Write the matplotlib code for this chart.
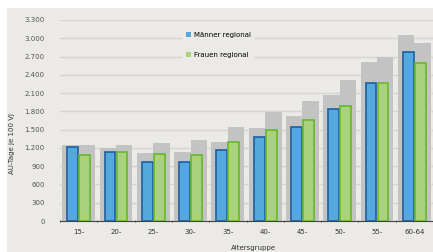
import numpy as np
import matplotlib.pyplot as plt
from matplotlib.patches import Rectangle


groups = ['15-', '20-', '25-', '30-', '35-', '40-', '45-', '50-', '55-', '60-64']
men_regional = [1210, 1140, 975, 970, 1160, 1380, 1550, 1835, 2260, 2775]
women_regional = [1090, 1130, 1100, 1090, 1290, 1490, 1660, 1890, 2260, 2590]
men_national = [1255, 1195, 1110, 1135, 1305, 1535, 1730, 2065, 2610, 3055]
women_national = [1255, 1245, 1275, 1335, 1550, 1790, 1975, 2315, 2700, 2930]
yticks = np.arange(0, 3301, 300)
ytick_labels = ['{:,}'.format(v).replace(',', '.') for v in yticks]


def main():
    bg = '#ebeae6'
    fig = plt.figure(figsize=(4.33, 2.52), dpi=100, facecolor='white')
    fig.patches.append(Rectangle((7 / 433, 0), 1, 1 - 8 / 252, transform=fig.transFigure,
                                 facecolor=bg, edgecolor='none', zorder=-5))

    ax = fig.add_axes([60 / 433, 31 / 252, 1 - 60 / 433, 201 / 252])
    ax.set_facecolor(bg)
    x = np.arange(len(groups))

    ax.bar(x - 0.22, men_national, width=0.44, color='#c3c3c3', zorder=2)
    ax.bar(x + 0.22, women_national, width=0.44, color='#c3c3c3', zorder=2)
    ax.bar(x - 0.16, men_regional, width=0.29, color='#55a8dc', edgecolor='#1d5f9f',
           linewidth=1.2, zorder=3, label='Männer regional')
    ax.bar(x + 0.16, women_regional, width=0.29, color='#a9d17e', edgecolor='#66b82a',
           linewidth=1.2, zorder=3, label='Frauen regional')

    ax.set_ylim(0, 3300)
    ax.set_xlim(-0.5, 9.4)
    ax.set_yticks(yticks)
    ax.set_yticklabels(ytick_labels)
    ax.yaxis.grid(True, color='#d6d5d1', linewidth=1.0, zorder=0)
    ax.set_axisbelow(True)
    ax.set_xticks(x)
    ax.set_xticklabels(groups)
    ax.set_xticks(np.arange(-0.5, 10, 1), minor=True)
    ax.tick_params(axis='x', which='major', length=0, labelsize=5, pad=6, colors='#333333')
    ax.tick_params(axis='x', which='minor', length=2, width=0.7, color='#555555', direction='inout')
    ax.tick_params(axis='y', length=0, labelsize=5, pad=11, colors='#555555')
    for lab in ax.get_yticklabels():
        lab.set_horizontalalignment('right')
    for side in ['top', 'right', 'left']:
        ax.spines[side].set_visible(False)
    ax.spines['bottom'].set_color('#444444')
    ax.spines['bottom'].set_linewidth(0.8)

    leg = ax.legend(loc='upper left', bbox_to_anchor=(0.318, 0.975), fontsize=5, frameon=True,
                    handlelength=0.8, handleheight=0.8, handletextpad=0.4, labelspacing=2.0,
                    borderpad=0.5)
    leg.get_frame().set_facecolor(bg)
    leg.get_frame().set_edgecolor('none')
    leg.get_frame().set_alpha(1)
    for h in leg.legend_handles:
        h.set_linewidth(0)

    fig.text(12 / 433, 1 - 144 / 252, 'AU-Tage je 100 VJ', rotation=90, fontsize=5,
             ha='center', va='center', color='#333333')
    fig.text(253 / 433, 1 - 248 / 252, 'Altersgruppe', fontsize=5, ha='center',
             va='center', color='#333333')

    fig.savefig('out.png', dpi=100, facecolor=fig.get_facecolor())


if __name__ == "__main__":
    main()
